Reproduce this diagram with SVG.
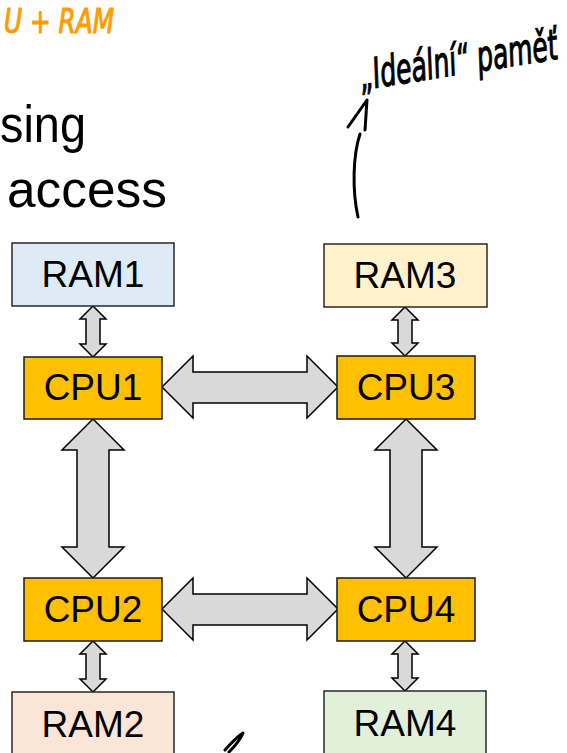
<svg xmlns="http://www.w3.org/2000/svg" width="567" height="753" viewBox="0 0 567 753">
  <style>
    .ram { stroke: #1a1a1a; stroke-width: 1.4; }
    .cpu { fill: #ffc000; stroke: #1a1a1a; stroke-width: 1.5; }
    .lbl { font-family: "Liberation Sans", Arial, sans-serif; font-size: 37px; fill: #000; text-anchor: middle; }
    .title { font-family: "Liberation Sans", Arial, sans-serif; font-size: 52px; fill: #000; }
    .link { fill: #d9d9d9; stroke: #000; stroke-width: 1.5; stroke-linejoin: miter; }
    .ink { fill: none; stroke: #000; stroke-width: 3; stroke-linecap: round; stroke-linejoin: round; }
    .hand { font-family: "DejaVu Sans", "Liberation Sans", sans-serif; font-style: italic; stroke-width: 1.2; }
  </style>

  <rect width="567" height="753" fill="#fff"/>

  <!-- handwritten note, top left -->
  <text class="hand" x="4" y="33" font-size="34" fill="#ff9c00" stroke="#ff9c00" textLength="110" lengthAdjust="spacingAndGlyphs">U + RAM</text>

  <!-- slide title fragments -->
  <text class="title" x="0" y="142" textLength="86" lengthAdjust="spacingAndGlyphs">sing</text>
  <text class="title" x="7" y="207" textLength="160" lengthAdjust="spacingAndGlyphs">access</text>

  <!-- handwritten note, top right (narrowed by a horizontal scale) -->
  <text class="hand" x="0" y="0" font-size="42" fill="#000" stroke="#000" transform="translate(362,90) rotate(-9) scale(0.6,1)">„Ideální“ paměť</text>
  <path class="ink" d="M348,127 L367,100 L365,130"/>
  <path class="ink" d="M360,134 C353,155 352,190 358,217"/>
  <path class="ink" d="M225,750 C232,742 240,735 243,733 C241,738 235,746 229,752"/>

  <!-- connectors -->
  <g id="connectors">
    <!-- RAM to CPU links -->
    <polygon class="link" points="93,306 106,319 100,319 100,344 106,344 93,357 80,344 86,344 86,319 80,319"/>
    <polygon class="link" points="405,307 418,320 412,320 412,343 418,343 405,356 392,343 398,343 398,320 392,320"/>
    <polygon class="link" points="93,641 106,654 100,654 100,679 106,679 93,692 80,679 86,679 86,654 80,654"/>
    <polygon class="link" points="405,641 418,654 412,654 412,678 418,678 405,691 392,678 398,678 398,654 392,654"/>
    <!-- CPU interconnect -->
    <polygon class="link" points="162,387 193,356 193,372 307,372 307,356 338,387 307,418 307,403 193,403 193,418"/>
    <polygon class="link" points="162,609 193,578 193,594 307,594 307,578 338,609 307,640 307,625 193,625 193,640"/>
    <polygon class="link" points="93,419 124,450 109,450 109,547 124,547 93,578 62,547 77,547 77,450 62,450"/>
    <polygon class="link" points="406,419 437,450 422,450 422,547 437,547 406,578 375,547 390,547 390,450 375,450"/>
  </g>

  <!-- memory nodes -->
  <g id="ram1">
    <rect class="ram" x="12" y="243" width="162" height="63" fill="#deebf7"/>
    <text class="lbl" x="93" y="287">RAM1</text>
  </g>
  <g id="ram3">
    <rect class="ram" x="324" y="244" width="163" height="63" fill="#fff2cc"/>
    <text class="lbl" x="405" y="288">RAM3</text>
  </g>
  <g id="ram2">
    <rect class="ram" x="12" y="692" width="162" height="70" fill="#fbe5d6"/>
    <text class="lbl" x="93" y="737">RAM2</text>
  </g>
  <g id="ram4">
    <rect class="ram" x="324" y="691" width="162" height="70" fill="#e2f0d9"/>
    <text class="lbl" x="405" y="736">RAM4</text>
  </g>

  <!-- processor nodes -->
  <g id="cpu1">
    <rect class="cpu" x="24" y="357" width="138" height="62"/>
    <text class="lbl" x="93" y="400">CPU1</text>
  </g>
  <g id="cpu3">
    <rect class="cpu" x="337" y="356" width="138" height="63"/>
    <text class="lbl" x="406" y="400">CPU3</text>
  </g>
  <g id="cpu2">
    <rect class="cpu" x="24" y="578" width="138" height="63"/>
    <text class="lbl" x="93" y="622">CPU2</text>
  </g>
  <g id="cpu4">
    <rect class="cpu" x="337" y="578" width="138" height="63"/>
    <text class="lbl" x="406" y="622">CPU4</text>
  </g>
</svg>
